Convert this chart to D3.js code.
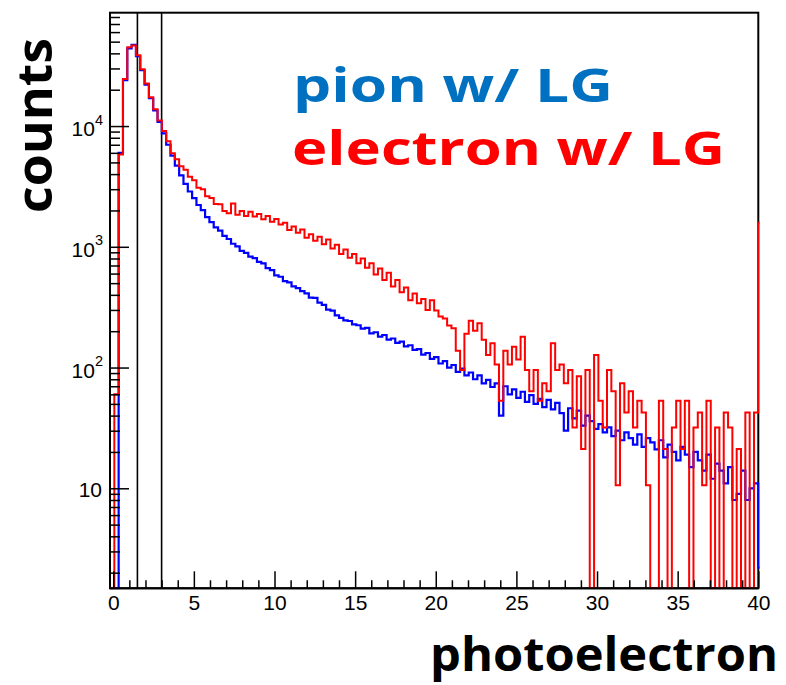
<!DOCTYPE html>
<html><head><meta charset="utf-8">
<script src="https://cdn.jsdelivr.net/npm/d3@7"></script>
<style>body{margin:0;background:#fff}svg{display:block}</style>
</head><body>
<svg id="chart" width="786" height="685"></svg>
<script>
// ---- data ----
const binStart = -0.2;
const binWidth = 0.268;
// 150 bins from -0.2 to 40, plus one bin beyond the axis end
const pionCounts = [
  0, 0, 6000, 24000, 44000, 47000, 38000, 29000, 22000, 17000,
  13500, 10800, 8700, 7000, 5700, 4700, 3900, 3320, 2870, 2530,
  2220, 2010, 1760, 1600, 1450, 1360, 1230, 1160, 1060, 1010,
  925, 890, 830, 805, 750, 730, 665, 640, 580, 565,
  520, 508, 470, 455, 430, 412, 380, 378, 345, 330,
  302, 296, 270, 258, 246, 243, 228, 224, 210, 213,
  192, 196, 180, 186, 170, 174, 160, 164, 150, 153,
  140, 142, 128, 132, 118, 122, 108, 113, 100, 105,
  92, 98, 86, 91, 80, 86, 74, 79, 69, 74,
  40, 70, 60, 66, 56, 63, 52, 59, 50, 55,
  47, 54, 45, 51, 42, 30, 46, 38, 44, 33,
  40, 36, 31, 34, 29, 32, 27, 30, 25, 29,
  26, 23, 28, 22, 26, 24, 21, 25, 18, 23,
  20, 17, 22, 19, 15, 20, 17, 14, 19, 12,
  16, 14, 11, 15, 8, 9, 14, 8, 10, 11,
  2.2
];
const electronCounts = [
  0, 60, 5800, 24500, 45000, 46500, 38500, 29500, 22500, 17300,
  13800, 11100, 9100, 7500, 5950, 5300, 4650, 4350, 3800, 3550,
  3080, 3000, 2620, 2540, 2260, 2250, 1980, 1900, 2280, 1840,
  1980, 1800, 1950, 1780, 1870, 1690, 1800, 1610, 1700, 1530,
  1580, 1380, 1470, 1310, 1390, 1190, 1270, 1120, 1210, 1050,
  1150, 970, 1040, 870, 950, 810, 870, 730, 800, 670,
  730, 590, 660, 530, 610, 470, 530, 420, 460, 360,
  410, 340, 370, 300, 360, 296.8, 265, 254.4, 222.6, 212,
  137.8, 95.4, 190.8, 243.8, 201.4, 233.2, 169.6, 127.2, 159, 106,
  53, 137.8, 106, 148.4, 116.6, 180.2, 95.4, 63.6, 95.4, 53,
  74.2, 63.6, 159, 95.4, 106, 74.2, 95.4, 31.8, 84.8, 21.2,
  95.4, 0, 127.2, 53, 31.8, 95.4, 63.6, 10.6, 74.2, 42.4,
  63.6, 31.8, 53, 42.4, 10.6, 0, 0, 53, 21.2, 0,
  31.8, 53, 21.2, 53, 0, 31.8, 42.4, 10.6, 53, 0,
  31.8, 0, 42.4, 31.8, 0, 21.2, 0, 42.4, 0, 42.4,
  1580
];
const xMajorTicks = [0, 5, 10, 15, 20, 25, 30, 35, 40];
const yMajorTicks = [10, 100, 1000, 10000];
const yTickExponents = ["", "2", "3", "4"];
const cutLines = [1.5, 3.0];
const pionLabel = "pion w/ LG";
const electronLabel = "electron w/ LG";
const xTitle = "photoelectron";
const yTitle = "counts";

// ---- layout ----
const L = 110, R = 758.3, T = 12.7, B = 588.3;
const svg = d3.select("#chart");
const x = d3.scaleLinear().domain([-0.2, 40]).range([L, R]);
const y = d3.scaleLog().domain([1.485, 86850]).range([B, T]);
const ymin = y.domain()[0];
const yv = v => v > ymin ? y(v) : B;

svg.append("defs").append("clipPath").attr("id", "plotclip")
  .append("rect").attr("x", L).attr("y", T).attr("width", R - L + 1.3).attr("height", B - T + 1);

// frame
svg.append("rect").attr("x", L).attr("y", T).attr("width", R - L).attr("height", B - T)
  .attr("fill", "none").attr("stroke", "#000").attr("stroke-width", 2);

// cut lines
svg.selectAll("line.cut").data(cutLines).join("line").attr("class", "cut")
  .attr("x1", d => x(d)).attr("x2", d => x(d)).attr("y1", T).attr("y2", B)
  .attr("stroke", "#000").attr("stroke-width", 1.6);

// histograms
function histPoints(vals) {
  const pts = [[binStart, null]];
  vals.forEach((v, i) => pts.push([binStart + i * binWidth, v]));
  pts.push([binStart + vals.length * binWidth, vals[vals.length - 1]]);
  pts.push([binStart + vals.length * binWidth, null]);
  return pts;
}
const stepLine = d3.line()
  .x(d => x(d[0]))
  .y(d => d[1] === null ? B : yv(d[1]))
  .curve(d3.curveStepAfter);
const gH = svg.append("g").attr("clip-path", "url(#plotclip)");
gH.append("path").attr("d", stepLine(histPoints(pionCounts)))
  .attr("fill", "none").attr("stroke", "#0000ff").attr("stroke-width", 2.2).attr("stroke-linejoin", "miter");
gH.append("path").attr("d", stepLine(histPoints(electronCounts)))
  .attr("fill", "none").attr("stroke", "#ff0000").attr("stroke-width", 2).attr("stroke-linejoin", "miter");

// bottom axis
const fontTick = "'Liberation Sans', Arial, sans-serif";
const gx = svg.append("g").attr("transform", `translate(0,${B})`);
gx.call(d3.axisBottom(x).tickValues(x.ticks(40).filter(t => !xMajorTicks.includes(t))).tickSize(-8).tickFormat(""));
gx.call(g => g.select(".domain").remove());
const gx2 = svg.append("g").attr("transform", `translate(0,${B})`);
gx2.call(d3.axisBottom(x).tickValues(xMajorTicks).tickSize(-17).tickPadding(7).tickFormat(d3.format("d")));
gx2.select(".domain").attr("stroke-width", 2).attr("d", `M${L},0H${R}`);
gx2.selectAll("text").attr("font-family", fontTick).attr("font-size", 21).attr("fill", "#000");

// left axis
const gy = svg.append("g").attr("transform", `translate(${L},0)`);
gy.call(d3.axisLeft(y).tickValues(y.ticks().filter(t => !yMajorTicks.includes(t))).tickSize(-10).tickFormat(""));
gy.call(g => g.select(".domain").remove());
const gy2 = svg.append("g").attr("transform", `translate(${L},0)`);
gy2.call(d3.axisLeft(y).tickValues(yMajorTicks).tickSize(-19).tickFormat(""));
gy2.call(g => g.select(".domain").remove());
svg.selectAll("g.tick line").attr("stroke-width", 1.5);

// y tick labels with superscripts
yMajorTicks.forEach((t, i) => {
  const exp = yTickExponents[i];
  const tx = svg.append("text").attr("x", exp ? 103 : 102)
    .attr("y", y(t) + (exp ? 10 : 8.5)).attr("text-anchor", "end")
    .attr("font-family", fontTick).attr("font-size", 21).attr("fill", "#000");
  tx.append("tspan").text("10");
  if (exp) tx.append("tspan").attr("dy", -11.5).attr("font-size", 14.5).text(exp);
});

// texts
const fontBold = "'Open Sans', 'Noto Sans', sans-serif";
svg.append("text").attr("x", 293).attr("y", 102).text(pionLabel)
  .attr("font-family", fontBold).attr("font-weight", 700).attr("font-size", 47)
  .attr("fill", "#0070c0").attr("textLength", 320).attr("lengthAdjust", "spacingAndGlyphs");
svg.append("text").attr("x", 292).attr("y", 165).text(electronLabel)
  .attr("font-family", fontBold).attr("font-weight", 700).attr("font-size", 47)
  .attr("fill", "#ff0000").attr("textLength", 433).attr("lengthAdjust", "spacingAndGlyphs");
svg.append("text").attr("x", 430).attr("y", 671).text(xTitle)
  .attr("font-family", fontBold).attr("font-weight", 700).attr("font-size", 46)
  .attr("fill", "#000").attr("textLength", 348).attr("lengthAdjust", "spacingAndGlyphs");
svg.append("text").attr("transform", "translate(52,213) rotate(-90)").text(yTitle)
  .attr("font-family", fontBold).attr("font-weight", 700).attr("font-size", 48)
  .attr("fill", "#000").attr("textLength", 175).attr("lengthAdjust", "spacingAndGlyphs");
</script>
</body></html>
